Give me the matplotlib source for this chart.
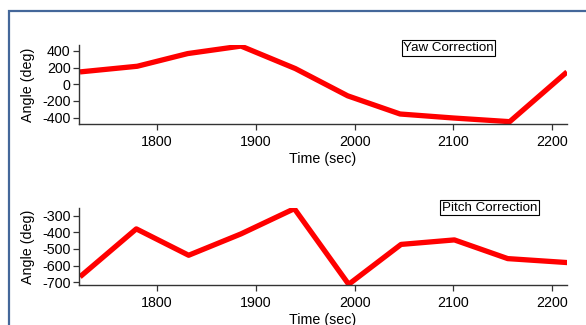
import matplotlib
matplotlib.use("Agg")
import matplotlib.pyplot as plt
from matplotlib.patches import Rectangle

plt.rcParams['font.family'] = ['Liberation Sans', 'DejaVu Sans']
plt.rcParams['axes.unicode_minus'] = False

# yaw correction (time in sec, angle in deg)
yaw_t = [1722, 1780, 1831, 1885, 1940, 1993, 2046, 2100, 2157, 2215]
yaw_a = [147, 215, 367, 457, 187, -140, -358, -406, -450, 147]

# pitch correction
pitch_t = [1722, 1779, 1832, 1885, 1939, 1994, 2047, 2101, 2155, 2216]
pitch_a = [-667, -380, -538, -410, -259, -712, -473, -446, -558, -582]

xticks = [1800, 1900, 2000, 2100, 2200]
yaw_ticks = [400, 200, 0, -200, -400]
pitch_ticks = [-300, -400, -500, -600, -700]

fig = plt.figure(figsize=(5.86, 3.25), dpi=100)

# blue frame round the whole thing
fig.patches.append(Rectangle((9/586, -0.1), 1.2, 1 - 11.5/325 + 0.1,
                             transform=fig.transFigure, fill=False,
                             edgecolor='#44679a', linewidth=1.6))

ax1 = fig.add_axes([79/586, 1 - 124/325, 488/586, 79/325])
ax2 = fig.add_axes([79/586, 1 - 285/325, 488/586, 77/325])

def style(ax, yt, ylim, label, lx, ly):
    ax.set_xlim(1721, 2215)
    ax.set_ylim(*ylim)
    ax.set_xticks(xticks)
    ax.set_yticks(yt)
    for s in ['top', 'right']:
        ax.spines[s].set_visible(False)
    for s in ['left', 'bottom']:
        ax.spines[s].set_color('#333333')
        ax.spines[s].set_linewidth(1.0)
    ax.tick_params(direction='out', length=4, width=0.9, color='#333333',
                   labelsize=10.3, pad=2)
    ax.tick_params(axis='x', pad=4)
    ax.set_xlabel("Time (sec)", fontsize=10.3, labelpad=2)
    ax.set_ylabel("Angle (deg)", fontsize=10.3)
    ax.yaxis.set_label_coords(-0.09, 0.5)
    ax.text(lx, ly, label, transform=ax.transAxes, ha='center', va='center',
            fontsize=9.6, clip_on=False,
            bbox=dict(boxstyle='square,pad=0.12', facecolor='white',
                      edgecolor='black', linewidth=0.8))

ax1.plot(yaw_t, yaw_a, color='#ff0000', linewidth=3.8, solid_capstyle='butt')
style(ax1, yaw_ticks, (-478, 470), "Yaw Correction", 0.757, 0.962)

ax2.plot(pitch_t, pitch_a, color='#ff0000', linewidth=3.8, solid_capstyle='butt')
style(ax2, pitch_ticks, (-716, -255), "Pitch Correction", 0.841, 1.006)

fig.savefig("out.png", dpi=100)
